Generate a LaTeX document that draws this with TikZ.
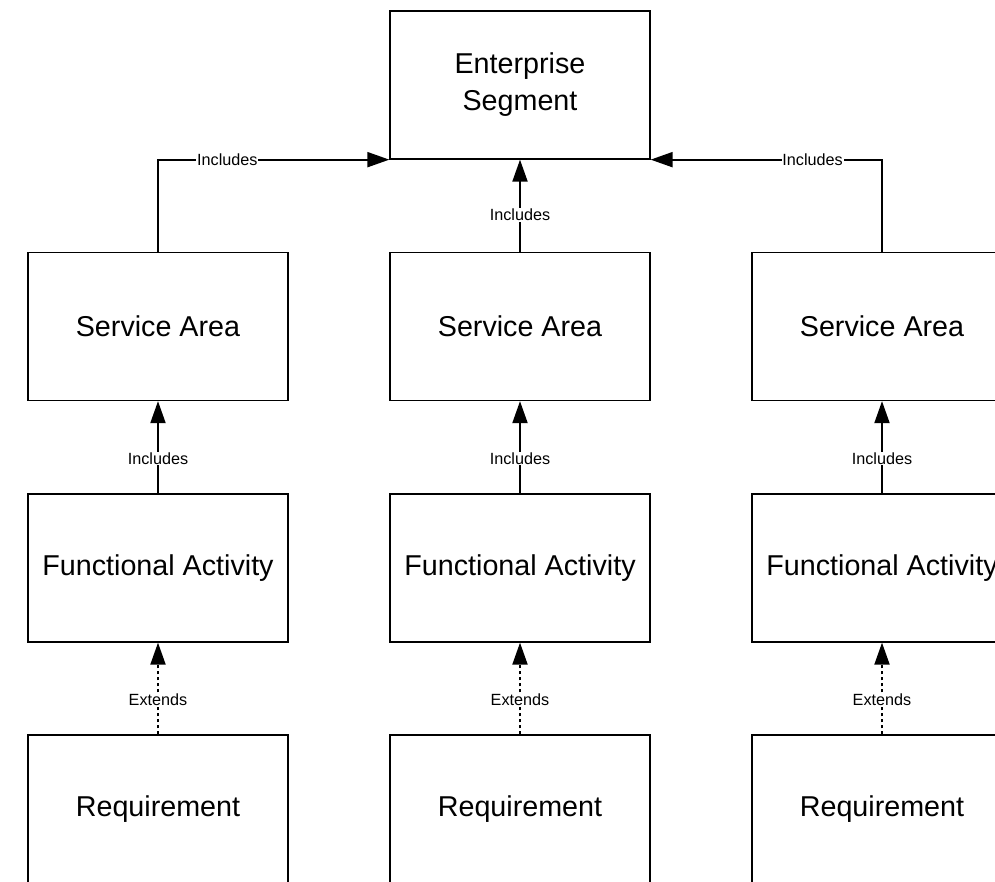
\documentclass[tikz,border=0pt]{standalone}
\usepackage{fontspec}
\setmainfont{Liberation Sans}
\usetikzlibrary{arrows.meta}
\begin{document}
\begin{tikzpicture}[x=1pt,y=-1pt,
  box/.style={draw,line width=1.3pt,minimum width=260pt,minimum height=148pt,
    inner sep=0pt,align=center,font=\fontsize{28.7pt}{37pt}\selectfont},
  link/.style={line width=2pt,-{Triangle[length=22pt,width=15pt]}},
  tag/.style={fill=white,inner sep=0.8pt,font=\fontsize{16.2pt}{19pt}\selectfont}]
\useasboundingbox (0,0) rectangle (995,881);
\clip (0,0) rectangle (995,881);

\node [box] (seg) at (520,85) {Enterprise\\Segment};

\node [box] (sa1) at (158,326.5) {Service Area};
\node [box] (sa2) at (520,326.5) {Service Area};
\node [box] (sa3) at (882,326.5) {Service Area};

\node [box] (fa1) at (158,568) {Functional Activity};
\node [box] (fa2) at (520,568) {Functional Activity};
\node [box] (fa3) at (882,568) {Functional Activity};

\node [box] (req1) at (158,809) {Requirement};
\node [box] (req2) at (520,809) {Requirement};
\node [box] (req3) at (882,809) {Requirement};

\draw [link] (sa1.north) |- (seg.south west) node [tag,pos=0.65] {Includes};
\draw [link] (sa2.north) -- (seg.south) node [tag,pos=0.4] {Includes};
\draw [link] (sa3.north) |- (seg.south east) node [tag,pos=0.65] {Includes};

\draw [link] (fa1.north) -- (sa1.south) node [tag,pos=0.38] {Includes};
\draw [link] (fa2.north) -- (sa2.south) node [tag,pos=0.38] {Includes};
\draw [link] (fa3.north) -- (sa3.south) node [tag,pos=0.38] {Includes};

\draw [link,dash pattern=on 3.5pt off 2.5pt] (req1.north) -- (fa1.south) node [tag,pos=0.38] {Extends};
\draw [link,dash pattern=on 3.5pt off 2.5pt] (req2.north) -- (fa2.south) node [tag,pos=0.38] {Extends};
\draw [link,dash pattern=on 3.5pt off 2.5pt] (req3.north) -- (fa3.south) node [tag,pos=0.38] {Extends};
\end{tikzpicture}
\end{document}
